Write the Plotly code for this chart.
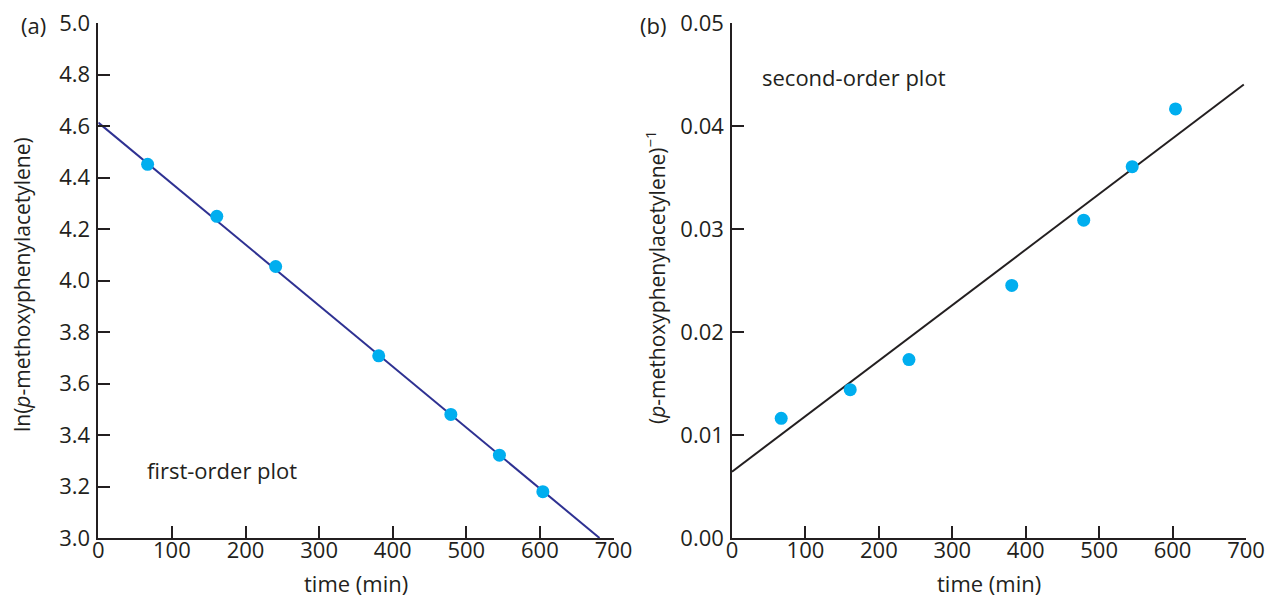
import plotly.graph_objects as go

# ---- data ----
time_min = [67, 161, 241, 381, 479, 545, 604]
ln_conc = [4.452, 4.250, 4.055, 3.708, 3.480, 3.322, 3.180]
inv_conc = [0.01163, 0.01441, 0.01733, 0.02454, 0.03087, 0.03607, 0.04168]

fit1_x = [0, 681]
fit1_y = [4.614, 3.0]
fit2_x = [0, 697]
fit2_y = [0.00643, 0.04405]

x_ticks = [0, 100, 200, 300, 400, 500, 600, 700]
y1_ticks = [3.0, 3.2, 3.4, 3.6, 3.8, 4.0, 4.2, 4.4, 4.6, 4.8, 5.0]
y2_ticks = [0.00, 0.01, 0.02, 0.03, 0.04, 0.05]

W, H = 1269, 598
FONT = "Open Sans"
TXT = "#231F20"
CYAN = "#00AEEF"
NAVY = "#2E3192"
FS = 22

fig = go.Figure()
fig.add_trace(go.Scatter(x=fit1_x, y=fit1_y, mode="lines",
                         line=dict(color=NAVY, width=2), xaxis="x", yaxis="y",
                         showlegend=False, hoverinfo="skip"))
fig.add_trace(go.Scatter(x=time_min, y=ln_conc, mode="markers",
                         marker=dict(color=CYAN, size=13), xaxis="x", yaxis="y",
                         showlegend=False))
fig.add_trace(go.Scatter(x=fit2_x, y=fit2_y, mode="lines",
                         line=dict(color=TXT, width=2), xaxis="x2", yaxis="y2",
                         showlegend=False, hoverinfo="skip"))
fig.add_trace(go.Scatter(x=time_min, y=inv_conc, mode="markers",
                         marker=dict(color=CYAN, size=13), xaxis="x2", yaxis="y2",
                         showlegend=False))

def px(x):
    return x / W

def py(y):
    return 1 - y / H

ydom = [py(538.0), py(23.3)]

common_ax = dict(showgrid=False, zeroline=False, showline=True, linecolor=TXT,
                 linewidth=1.5, ticks="inside", ticklen=12, tickwidth=1.5,
                 tickcolor=TXT, tickfont=dict(family=FONT, size=FS, color=TXT),
                 mirror=False, automargin=False)

tfont = dict(family=FONT, size=FS, color=TXT)
yfont = dict(family=FONT, size=21, color=TXT)

def ann(text, x, y, font=tfont, xanchor="center", angle=0, xref="paper", yref="paper"):
    return dict(text=text, x=x, y=y, xref=xref, yref=yref, xanchor=xanchor,
                yanchor="middle", showarrow=False, font=font, textangle=angle)

fig.update_layout(
    width=W, height=H,
    margin=dict(l=0, r=0, t=0, b=0, autoexpand=False),
    paper_bgcolor="white", plot_bgcolor="white",
    font=dict(family=FONT, color=TXT, size=FS),
    xaxis=dict(domain=[px(98.3), px(613.5)], anchor="y", range=[0, 700],
               tickvals=x_ticks, ticktext=[str(v) for v in x_ticks],
               ticklabelstandoff=-8, **common_ax),
    yaxis=dict(domain=ydom, anchor="x", range=[3.0, 5.0],
               tickvals=y1_ticks, ticktext=[f"{v:.1f}" for v in y1_ticks],
               ticklabelstandoff=2, **common_ax),
    xaxis2=dict(domain=[px(732), px(1246)], anchor="y2", range=[0, 700],
                tickvals=x_ticks, ticktext=[str(v) for v in x_ticks],
                ticklabelstandoff=-8, **common_ax),
    yaxis2=dict(domain=ydom, anchor="x2", range=[0.0, 0.05],
                tickvals=y2_ticks, ticktext=[f"{v:.2f}" for v in y2_ticks],
                ticklabelstandoff=2, **common_ax),
    annotations=[
        ann("time (min)", px(356), py(583)),
        ann("time (min)", px(989), py(583)),
        ann("ln(<i>p</i>-methoxyphenylacetylene)", px(22), py(285), font=yfont, angle=-90),
        ann("(<i>p</i>-methoxyphenylacetylene)<sup>−1</sup>", px(655), py(278), font=yfont, angle=-90),
        ann("first-order plot", 63, 3.265, xanchor="left", xref="x", yref="y"),
        ann("second-order plot", 38, 0.0448, xanchor="left", xref="x2", yref="y2"),
        ann("(a)", px(19), py(25), xanchor="left"),
        ann("(b)", px(638), py(25), xanchor="left"),
    ],
)

fig.write_html("out.html",
               config={"displayModeBar": False},
               post_script="document.body.style.margin='0';document.body.style.overflow='hidden';")
